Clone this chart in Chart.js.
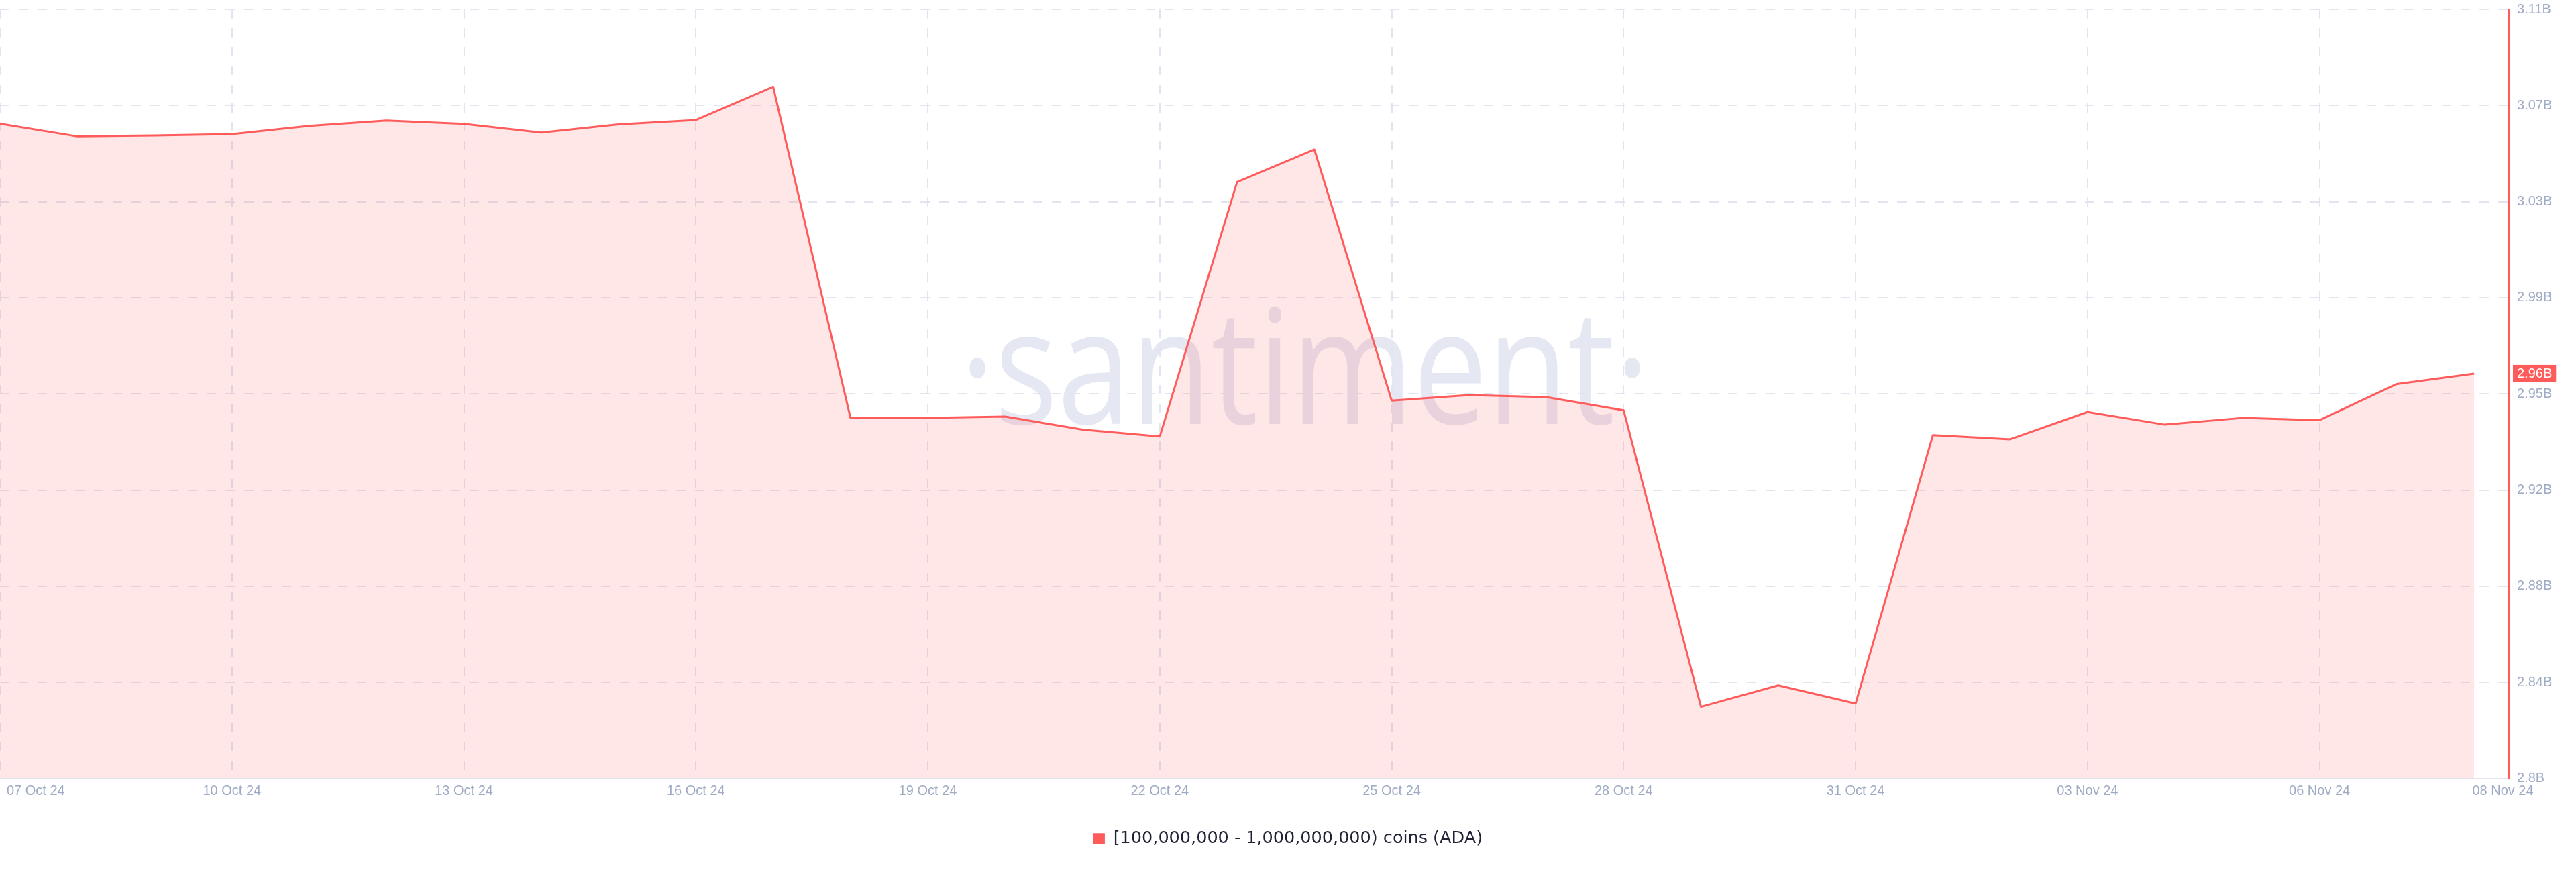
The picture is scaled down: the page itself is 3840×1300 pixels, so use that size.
<!DOCTYPE html>
<html>
<head>
<meta charset="utf-8">
<title>ADA holders 100M - 1B coins</title>
<script src="https://cdn.jsdelivr.net/npm/chart.js@4.4.1/dist/chart.umd.min.js"></script>
<style>
  html, body { margin: 0; padding: 0; background: #fff; }
  canvas { display: block; }
</style>
</head>
<body>
<canvas id="holdersChart" width="3840" height="1300"></canvas>
<script>
// one point per day, 07 Oct 24 -> 08 Nov 24
const dates = [
  '07 Oct 24', '08 Oct 24', '09 Oct 24', '10 Oct 24', '11 Oct 24', '12 Oct 24',
  '13 Oct 24', '14 Oct 24', '15 Oct 24', '16 Oct 24', '17 Oct 24', '18 Oct 24',
  '19 Oct 24', '20 Oct 24', '21 Oct 24', '22 Oct 24', '23 Oct 24', '24 Oct 24',
  '25 Oct 24', '26 Oct 24', '27 Oct 24', '28 Oct 24', '29 Oct 24', '30 Oct 24',
  '31 Oct 24', '01 Nov 24', '02 Nov 24', '03 Nov 24', '04 Nov 24', '05 Nov 24',
  '06 Nov 24', '07 Nov 24', '08 Nov 24'
];

// supply held by [100M - 1B) ADA wallets, in billions
const holdingsB = [
  3.0639, 3.0588, 3.0592, 3.0597, 3.0630, 3.0652,
  3.0638, 3.0603, 3.0636, 3.0654, 3.0788, 2.9453,
  2.9453, 2.9459, 2.9406, 2.9378, 3.0404, 3.0535,
  2.9523, 2.9545, 2.9537, 2.9484, 2.8289, 2.8375,
  2.8302, 2.9384, 2.9367, 2.9477, 2.9426, 2.9453,
  2.9444, 2.9590, 2.9632
];

// which days get a date label
const xTickDays = [0, 3, 6, 9, 12, 15, 18, 21, 24, 27, 30, 32];

const yTickLabels = ['2.8B', '2.84B', '2.88B', '2.92B', '2.95B', '2.99B', '3.03B', '3.07B', '3.11B'];

const lineColor = '#ff5b5b';
const gridColor = '#e2e5f0';
const tickColor = '#9faac4';
const tickFont = { family: 'Arial, "Liberation Sans", sans-serif', size: 20 };

const lastDay = dates.length - 1;
const yMin = 2.8;
const yMax = 3.11;

// santiment watermark, drawn under the grid and the area
const watermark = {
  id: 'watermark',
  beforeDraw(chart) {
    const ctx = chart.ctx;
    const text = '\u00B7santiment\u00B7';
    ctx.save();
    ctx.font = '239px "Open Sans"';
    ctx.fillStyle = '#e5e7f2';
    ctx.textAlign = 'center';
    ctx.textBaseline = 'alphabetic';
    const m = ctx.measureText(text);
    const sx = 1000 / (m.actualBoundingBoxLeft + m.actualBoundingBoxRight);
    ctx.translate(1945, 632);
    ctx.scale(sx, 1);
    ctx.fillText(text, 0, 0);
    ctx.restore();
  }
};

// first / last date labels sit inside the canvas, plus the last value badge
const edgeLabels = {
  id: 'edgeLabels',
  afterDraw(chart) {
    const ctx = chart.ctx;
    const xs = chart.scales.x;
    const ys = chart.scales.y;
    ctx.save();
    ctx.font = '20px Arial, "Liberation Sans", sans-serif';
    ctx.textBaseline = 'middle';
    ctx.fillStyle = tickColor;

    const ty = xs.top + 7 + 12;
    const first = dates[xTickDays[0]];
    const firstW = ctx.measureText(first).width;
    ctx.textAlign = 'left';
    ctx.fillText(first, Math.max(10, xs.getPixelForValue(xTickDays[0]) - firstW / 2), ty);
    ctx.textAlign = 'center';
    ctx.fillText(dates[xTickDays[xTickDays.length - 1]], xs.right - 9, ty);

    const lastVal = holdingsB[lastDay];
    const py = ys.getPixelForValue(lastVal);
    const label = lastVal.toFixed(2) + 'B';
    const w = ctx.measureText(label).width;
    ctx.fillStyle = lineColor;
    ctx.fillRect(ys.left + 6, py - 13, w + 12, 26);
    ctx.fillStyle = '#fff';
    ctx.textAlign = 'left';
    ctx.fillText(label, ys.left + 12, py + 1);
    ctx.restore();
  }
};

new Chart(document.getElementById('holdersChart'), {
  type: 'line',
  data: {
    labels: dates,
    datasets: [{
      label: '[100,000,000 - 1,000,000,000) coins (ADA)',
      data: holdingsB.map((v, i) => ({ x: i, y: v })),
      borderColor: lineColor,
      backgroundColor: 'rgba(255, 91, 91, 0.15)',
      borderWidth: 3,
      borderJoinStyle: 'round',
      fill: 'start',
      pointRadius: 0,
      tension: 0
    }]
  },
  options: {
    responsive: false,
    animation: false,
    devicePixelRatio: 1,
    layout: { padding: { top: 14, bottom: 27, left: 0, right: 0 } },
    plugins: {
      legend: {
        position: 'bottom',
        labels: {
          color: '#1f2235',
          font: { family: '"DejaVu Sans"', size: 25.5 },
          boxWidth: 17,
          boxHeight: 16,
          padding: 39,
          generateLabels(chart) {
            return Chart.defaults.plugins.legend.labels.generateLabels(chart).map(item => ({
              ...item, fillStyle: lineColor, strokeStyle: lineColor, lineWidth: 0
            }));
          }
        }
      },
      tooltip: { enabled: false }
    },
    scales: {
      x: {
        type: 'linear',
        min: 0,
        max: lastDay + 0.45,
        afterBuildTicks: s => { s.ticks = xTickDays.map(v => ({ value: v })); },
        afterFit: s => { s.paddingLeft = 0; s.paddingRight = 0; },
        grid: {
          color: c => (c.tick && c.tick.value % 3 === 0) ? gridColor : 'transparent',
          lineWidth: 2,
          drawTicks: false
        },
        border: { color: gridColor, width: 2, dash: [14, 14] },
        ticks: {
          padding: 7,
          font: tickFont,
          color: tickColor,
          autoSkip: false,
          maxRotation: 0,
          callback: (v, i) => (i === 0 || i === xTickDays.length - 1) ? '' : dates[v]
        }
      },
      y: {
        position: 'right',
        min: yMin,
        max: yMax,
        afterBuildTicks: s => {
          s.ticks = yTickLabels.map((_, i) => ({ value: yMin + i * (yMax - yMin) / (yTickLabels.length - 1) }));
        },
        afterFit: s => { s.width = 100; s.paddingTop = 0; s.paddingBottom = 0; },
        grid: { color: gridColor, lineWidth: 2, drawTicks: false },
        border: { color: lineColor, width: 2, dash: [14, 14] },
        ticks: {
          padding: 12,
          font: tickFont,
          color: tickColor,
          callback: (v, i) => yTickLabels[i]
        }
      }
    }
  },
  plugins: [watermark, edgeLabels]
});
</script>
</body>
</html>
